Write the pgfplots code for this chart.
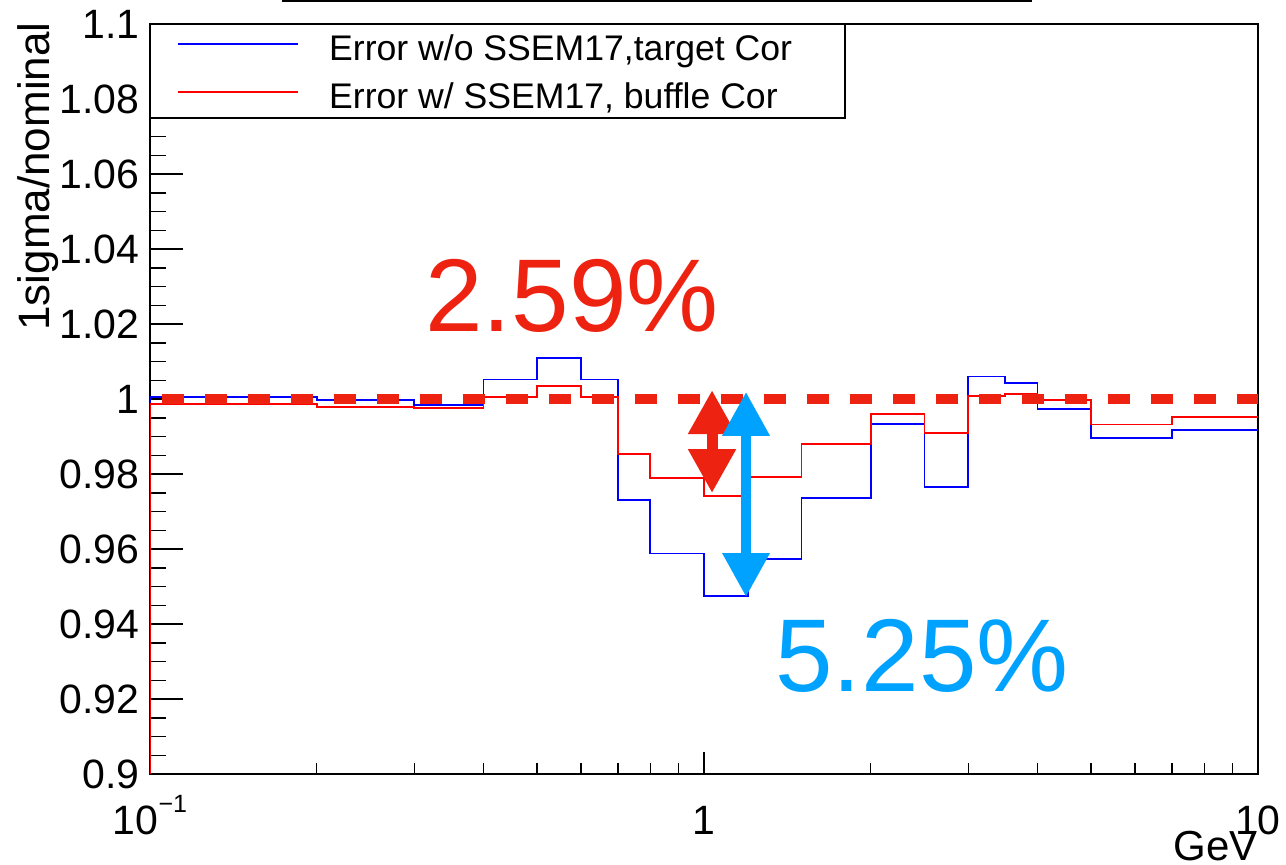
\documentclass[border=0pt]{standalone}
\usepackage{pgfplots}
\pgfplotsset{compat=1.18}
\usepackage{fontspec}
\setmainfont{Liberation Sans}
\usetikzlibrary{arrows.meta}
\definecolor{annred}{RGB}{238,34,17}
\definecolor{annblue}{RGB}{0,162,255}
\begin{document}
\begin{tikzpicture}
\useasboundingbox (-75pt,-45pt) rectangle (568pt,387pt);
\begin{axis}[
  at={(0pt,0pt)}, anchor=south west,
  scale only axis, width=554pt, height=375pt,
  xmode=log, xmin=0.1, xmax=10, ymin=0.9, ymax=1.1,
  axis line style={line width=1.1pt},
  xtick pos=left, ytick pos=left, tick align=inside,
  major tick length=16.5pt, minor tick length=8pt,
  xtick={0.1,1,10},
  xticklabels={10\raisebox{11pt}{\fontsize{12.5}{12.5}\selectfont −1},1,10},
  minor xtick={0.2,0.3,0.4,0.5,0.6,0.7,0.8,0.9,2,3,4,5,6,7,8,9},
  ytick={0.9,0.92,0.94,0.96,0.98,1,1.02,1.04,1.06,1.08,1.1},
  yticklabels={0.9,0.92,0.94,0.96,0.98,1,1.02,1.04,1.06,1.08,1.1},
  minor ytick={0.905,0.91,0.915,0.925,0.93,0.935,0.945,0.95,0.955,0.965,0.97,0.975,0.985,0.99,0.995,1.005,1.01,1.015,1.025,1.03,1.035,1.045,1.05,1.055,1.065,1.07,1.075,1.085,1.09,1.095},
  tick style={line width=0.75pt, black},
  xtick style={/pgfplots/major tick length=11pt, /pgfplots/minor tick length=5.5pt},
  ytick style={/pgfplots/major tick length=16.5pt, /pgfplots/minor tick length=8pt},
  yticklabel style={font=\fontsize{20.5}{24}\selectfont, anchor=east, inner sep=0pt, xshift=-5pt},
  xticklabel style={font=\fontsize{20.5}{24}\selectfont, anchor=base, inner sep=0pt, yshift=-30pt},
  xlabel={GeV},
  every axis x label/.style={at={(axis description cs:1,0)}, anchor=base east, yshift=-43pt, inner sep=0pt, font=\fontsize{21}{24}\selectfont},
  ylabel={1sigma/nominal},
  every axis y label/.style={at={(axis description cs:0,1)}, xshift=-50pt, yshift=1pt, rotate=90, anchor=base east, inner sep=0pt, font=\fontsize{22}{26}\selectfont},
  legend style={draw=none, fill=none, at={(axis description cs:0,1)}, anchor=north west,
    xshift=13.5pt, yshift=-4.9pt, inner sep=0pt, row sep=7pt, column sep=15pt,
    font=\fontsize{17.8}{20}\selectfont,
    nodes={inner sep=0pt, text height=13pt, text depth=4pt}},
  legend cell align=left,
  legend image code/.code={\draw[#1] (0pt,0.35em) -- (60pt,0.35em);},
]
\draw[line width=1pt, fill=white] (rel axis cs:0,0.8747) rectangle (rel axis cs:0.6273,1);

\addplot[const plot, blue, line width=0.9pt] coordinates {
(0.1,0.9) (0.1,1.0006) (0.2,0.9998) (0.3,0.9985) (0.4,1.0052) (0.5,1.011) (0.6,1.0052)
(0.7,0.9731) (0.8,0.9588) (1.0,0.9475) (1.2,0.9573) (1.5,0.9735) (2.0,0.9933)
(2.5,0.9765) (3.0,1.006) (3.5,1.0042) (4.0,0.9974) (5.0,0.9896) (7.0,0.9917) (10,0.9917)};
\addlegendentry{Error w/o SSEM17,target Cor}

\addplot[const plot, red, line width=0.9pt] coordinates {
(0.1,0.9) (0.1,0.9987) (0.2,0.9979) (0.3,0.9975) (0.4,1.0006) (0.5,1.0035) (0.6,1.0006)
(0.7,0.9853) (0.8,0.979) (1.0,0.9741) (1.2,0.9793) (1.5,0.9879) (2.0,0.996)
(2.5,0.9909) (3.0,1.0009) (3.5,1.0013) (4.0,0.9997) (5.0,0.9932) (7.0,0.9951) (10,0.9951)};
\addlegendentry{Error w/ SSEM17, buffle Cor}

\addplot[forget plot, annred, line width=4.7pt, dash pattern=on 11pt off 10.5pt, dash phase=15.65pt] coordinates {(0.1,1) (10,1)};

\draw[annred, line width=5.5pt, {Triangle[width=22.5pt,length=22pt]}-{Triangle[width=22.5pt,length=22pt]}] (axis cs:1.034,1.0024) -- (axis cs:1.034,0.9749);
\draw[annblue, line width=5pt, {Triangle[width=22.5pt,length=22pt]}-{Triangle[width=22.5pt,length=22pt]}] (axis cs:1.191,1.0019) -- (axis cs:1.191,0.9472);

\node[anchor=base west, inner sep=0pt, text=annred, font=\fontsize{51.7}{60}\selectfont] at (axis cs:0.3135,1.01813) {2.59\%};
\node[anchor=base west, inner sep=0pt, text=annblue, font=\fontsize{51.7}{60}\selectfont] at (axis cs:1.3434,0.92213) {5.25\%};
\end{axis}
\draw[line width=1pt] (66pt,386.4pt) -- (441pt,386.4pt);
\end{tikzpicture}
\end{document}
